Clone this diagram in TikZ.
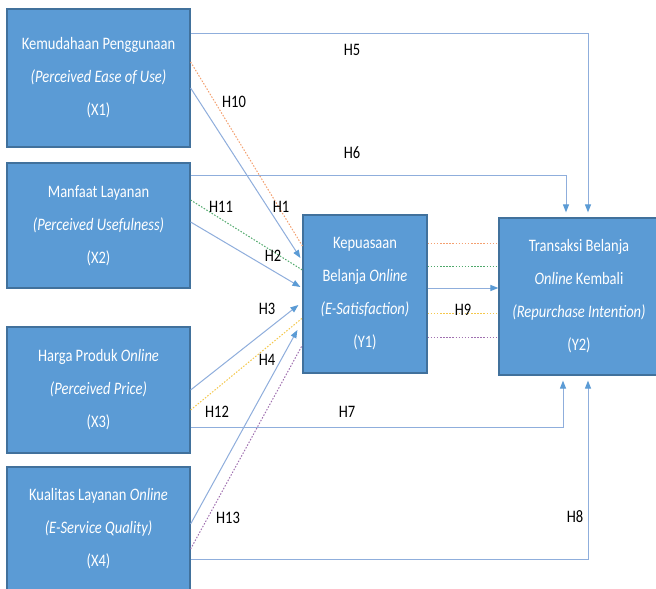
\documentclass[tikz,border=0pt]{standalone}
\usepackage{fontspec}
\setmainfont{Carlito}[FakeStretch=0.83]
\usetikzlibrary{arrows.meta}
\definecolor{boxfill}{HTML}{5B9BD5}
\definecolor{boxline}{HTML}{41719C}
\definecolor{conn}{HTML}{8FAEDC}
\definecolor{tip}{HTML}{5B9BD5}
\definecolor{dorange}{HTML}{F4A070}
\definecolor{dgreen}{HTML}{4EA86A}
\definecolor{dyellow}{HTML}{F5C84C}
\definecolor{dpurple}{HTML}{A070B0}
\tikzset{
  varbox/.style={draw=boxline, line width=1.2pt, fill=boxfill, text=white,
    align=center, inner sep=0pt, font=\fontsize{17.5}{33}\selectfont},
  hlab/.style={font=\fontsize{17.5}{20}\selectfont, text=black, inner sep=1pt},
  conarrow/.style={draw=conn, line width=1pt,
    -{Triangle[length=8pt,width=6pt,fill=tip,color=tip]}},
  conline/.style={draw=conn, line width=1pt},
  dotline/.style={line width=1pt, dash pattern=on 1.5pt off 1.6pt},
}
\begin{document}
\begin{tikzpicture}[x=1pt,y=-1pt]
\useasboundingbox (0,0) rectangle (656,589);
\fill[white] (0,0) rectangle (656,589);
\begin{scope}
\clip (0,0) rectangle (656,589);
% boxes
\node[varbox, minimum width=183pt, minimum height=138pt] (X1) at (98.5,78)
  {Kemudahaan Penggunaan\\ \textit{(Perceived Ease of Use)}\\ (X1)};
\node[varbox, minimum width=183pt, minimum height=125pt] (X2) at (98.5,225.5)
  {Manfaat Layanan\\ \textit{(Perceived Usefulness)}\\ (X2)};
\node[varbox, minimum width=183pt, minimum height=126pt] (X3) at (98.5,390)
  {Harga Produk \textit{Online}\\ \textit{(Perceived Price)}\\ (X3)};
\node[varbox, minimum width=183pt, minimum height=124pt] (X4) at (98.5,529)
  {Kualitas Layanan \textit{Online}\\ \textit{(E-Service Quality)}\\ (X4)};
\node[varbox, minimum width=124pt, minimum height=158pt] (Y1) at (365,294)
  {Kepuasaan\\ Belanja \textit{Online}\\ \textit{(E-Satisfaction)}\\ (Y1)};
\node[varbox, minimum width=160pt, minimum height=157pt] (Y2) at (579,296.5)
  {Transaksi Belanja\\ \textit{Online} Kembali\\ \textit{(Repurchase Intention)}\\ (Y2)};
\end{scope}

% dotted mediation lines into Y1
\draw[dotline, draw=dorange] ([yshift=16pt]X1.east) -- ([yshift=48pt]Y1.west);
\draw[dotline, draw=dgreen] ([yshift=25.5pt]X2.east) -- ([yshift=24pt]Y1.west);
\draw[dotline, draw=dyellow] ([yshift=-20pt]X3.east) -- ([yshift=-24pt]Y1.west);
\draw[dotline, draw=dpurple] ([yshift=-20pt]X4.east) -- ([yshift=-51pt]Y1.west);
% dotted lines Y1 -> Y2
\draw[dotline, draw=dorange] ([yshift=51pt]Y1.east) -- ([yshift=51pt]Y1.east -| Y2.west);
\draw[dotline, draw=dgreen] ([yshift=28pt]Y1.east) -- ([yshift=28pt]Y1.east -| Y2.west);
\draw[dotline, draw=dyellow] ([yshift=-19pt]Y1.east) -- ([yshift=-19pt]Y1.east -| Y2.west);
\draw[dotline, draw=dpurple] ([yshift=-43pt]Y1.east) -- ([yshift=-43pt]Y1.east -| Y2.west);

% direct arrows into Y1
\draw[conarrow] ([yshift=-10pt]X1.east) -- ([xshift=-2pt,yshift=36pt]Y1.west);
\draw[conarrow] ([yshift=3.5pt]X2.east) -- ([xshift=-2pt,yshift=7pt]Y1.west);
\draw[conarrow] (X3.east) -- ([xshift=-4pt,yshift=-11pt]Y1.west);
\draw[conarrow] ([yshift=5pt]X4.east) -- ([xshift=-5pt,yshift=-36pt]Y1.west);
% Y1 -> Y2
\draw[conarrow] ([yshift=6pt]Y1.east) -- ([yshift=6pt]Y1.east -| Y2.west);
% direct arrows into Y2
\draw[conarrow] ([yshift=45pt]X1.east) -| ([xshift=9pt,yshift=5pt]Y2.north);
\draw[conarrow] ([yshift=50.5pt]X2.east) -| ([xshift=-13pt,yshift=5pt]Y2.north);
\draw[conarrow] ([yshift=-37pt]X3.east) -| ([xshift=-16pt,yshift=-5pt]Y2.south);
\draw[conarrow] ([yshift=-30pt]X4.east) -| ([xshift=9pt,yshift=-5pt]Y2.south);

% labels
\node[hlab] (h10) at (234,102) {H10};
\node[hlab] (h1) at (281,207) {H1};
\node[hlab] (h11) at (221,207) {H11};
\node[hlab] (h2) at (273,256) {H2};
\node[hlab] (h3) at (267,309) {H3};
\node[hlab] (h4) at (267,360) {H4};
\node[hlab] (h12) at (217,412) {H12};
\node[hlab] (h13) at (228,518) {H13};
\node[hlab] (h5) at (352,50) {H5};
\node[hlab] (h6) at (352,153) {H6};
\node[hlab] (h7) at (347,412) {H7};
\node[hlab] (h8) at (575,517) {H8};
\node[hlab] (h9) at (463,310) {H9};
\end{tikzpicture}
\end{document}
